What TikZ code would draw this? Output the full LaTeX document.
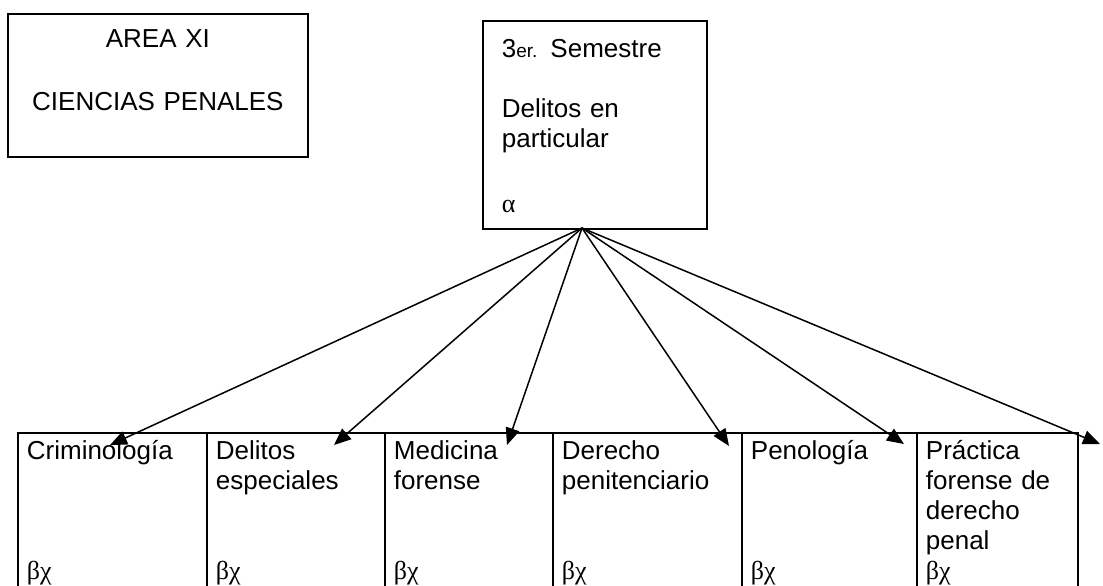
\documentclass[tikz,border=0pt]{standalone}
\usepackage{fontspec}
\setmainfont{Liberation Sans}
\newfontfamily\greekfont{Liberation Serif}
\usetikzlibrary{positioning,arrows.meta}

\tikzset{
  topbox/.style={draw, anchor=north west, text height=10.5pt},
  cell/.style={draw, anchor=north west, text width=#1, align=left,
    inner xsep=4.5pt, inner ysep=3pt, text height=10.5pt, text depth=80pt},
  link/.style={-{Triangle[length=8.5pt,width=7pt]}, line width=0.75pt}
}

\begin{document}
\begin{tikzpicture}[x=0.5pt, y=-0.5pt, line width=0.9pt,
    font=\fontsize{13}{15}\selectfont]
  \clip (0,0) rectangle (1103,585);
  \fill[white] (0,0) rectangle (1103,585);

  % area title and semester
  \node[topbox, text width=140pt, align=center, inner xsep=5pt,
    inner ysep=6.5pt, text depth=48pt] (area) at (7,13)
    {AREA XI\\[16.5pt]CIENCIAS PENALES};
  \node[topbox, text width=93pt, align=left, inner xsep=9.5pt,
    inner ysep=8pt, text depth=77.5pt] (sem) at (482,20)
    {3{\fontsize{9.5}{15}\selectfont er.} Semestre\\[15pt]Delitos en\\particular\\[17.5pt]{\greekfont α}};

  % subjects
  \node[cell=85.5pt] (crim) at (17,432) {Criminología\\[45pt]{\greekfont βχ}};
  \node[cell=80pt, right=-\pgflinewidth of crim] (delesp)
    {Delitos\\especiales\\[30pt]{\greekfont βχ}};
  \node[cell=75pt, right=-\pgflinewidth of delesp] (medfor)
    {Medicina\\forense\\[30pt]{\greekfont βχ}};
  \node[cell=85.5pt, right=-\pgflinewidth of medfor] (derpen)
    {Derecho\\penitenciario\\[30pt]{\greekfont βχ}};
  \node[cell=78.5pt, right=-\pgflinewidth of derpen] (peno)
    {Penología\\[45pt]{\greekfont βχ}};
  \node[cell=71.5pt, right=-\pgflinewidth of peno] (prafor)
    {Práctica\\forense de\\derecho\\penal\\{\greekfont βχ}};

  \coordinate (apex) at (582,228);
  \coordinate (tcrim) at (110,445);
  \coordinate (tdelesp) at (334,445);
  \coordinate (tmedfor) at (507,445);
  \coordinate (tderpen) at (729,446);
  \coordinate (tpeno) at (904,444);
  \coordinate (tprafor) at (1100,444);

  \foreach \t in {tcrim, tdelesp, tmedfor, tderpen, tpeno, tprafor}
    \draw[link] (apex) -- (\t);
\end{tikzpicture}
\end{document}
